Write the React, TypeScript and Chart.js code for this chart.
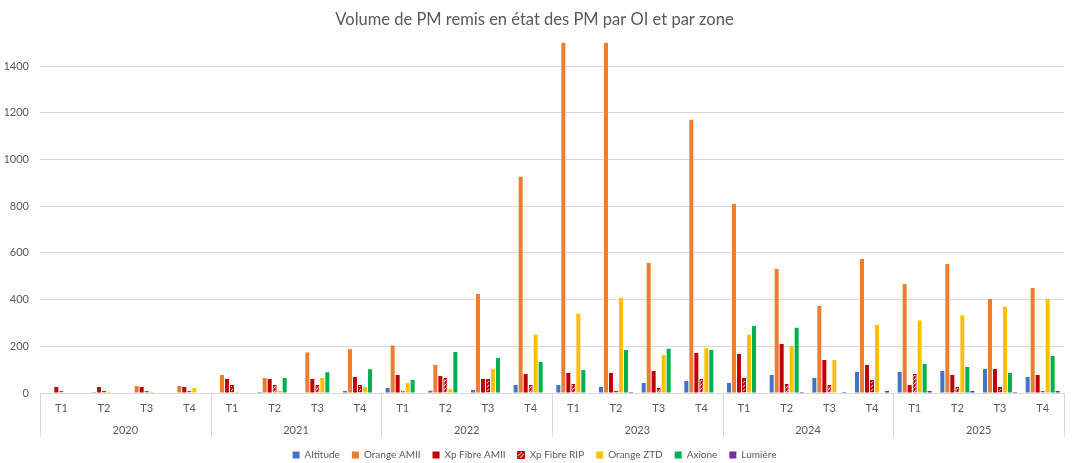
import React, { useEffect, useRef } from "react";
import { Chart, registerables } from "chart.js";

Chart.register(...registerables);

const categories = [
  "T1", "T2", "T3", "T4",
  "T1", "T2", "T3", "T4",
  "T1", "T2", "T3", "T4",
  "T1", "T2", "T3", "T4",
  "T1", "T2", "T3", "T4",
  "T1", "T2", "T3", "T4",
];
const years = ["2020", "2021", "2022", "2023", "2024", "2025"];
const yTicks = [0, 200, 400, 600, 800, 1000, 1200, 1400];
const yMax = 1500;

const altitude = [0, 0, 0, 0, 0, 4, 0, 9, 21, 10, 13, 34, 34, 26, 43, 51, 43, 77, 64, 90, 90, 94, 103, 69];
const orangeAmii = [0, 4, 30, 30, 77, 64, 174, 187, 203, 120, 424, 926, 1650, 1600, 557, 1170, 810, 531, 373, 574, 467, 553, 403, 450];
const xpFibreAmii = [26, 26, 26, 26, 60, 60, 60, 68, 77, 73, 60, 81, 86, 86, 94, 171, 167, 210, 141, 120, 34, 77, 103, 77];
const xpFibreRip = [9, 9, 9, 9, 34, 34, 34, 34, 10, 64, 60, 34, 39, 9, 21, 60, 64, 39, 34, 56, 81, 26, 26, 9];
const orangeZtd = [0, 4, 4, 21, 4, 9, 64, 26, 43, 17, 103, 249, 339, 407, 163, 193, 249, 201, 141, 291, 311, 333, 369, 403];
const axione = [0, 0, 0, 0, 0, 64, 89, 102, 56, 176, 150, 133, 99, 184, 189, 184, 287, 279, 0, 0, 124, 111, 86, 159];
const lumiere = [0, 0, 0, 0, 0, 0, 0, 0, 0, 0, 0, 0, 0, 4, 0, 0, 0, 4, 4, 9, 9, 9, 4, 9];

const FONT = "Lato, 'Liberation Sans', sans-serif";
const TEXT = "#595959";
const GRID = "#d9d9d9";

function makeHatch(): CanvasPattern | string {
  const c = document.createElement("canvas");
  c.width = 4;
  c.height = 4;
  const ctx = c.getContext("2d");
  if (!ctx) return "#c00000";
  ctx.fillStyle = "#ffffff";
  ctx.fillRect(0, 0, 4, 4);
  ctx.strokeStyle = "#c00000";
  ctx.lineWidth = 2;
  ctx.beginPath();
  ctx.moveTo(-1, 5);
  ctx.lineTo(5, -1);
  ctx.moveTo(-3, 3);
  ctx.lineTo(3, -3);
  ctx.moveTo(1, 7);
  ctx.lineTo(7, 1);
  ctx.stroke();
  return ctx.createPattern(c, "repeat") || "#c00000";
}

const yearSeparators = {
  id: "yearSeparators",
  afterDraw(chart: any) {
    const xs = chart.scales.x;
    const { ctx, chartArea } = chart;
    const per = categories.length / years.length;
    const bottom = chartArea.bottom + 44;
    ctx.save();
    ctx.strokeStyle = GRID;
    ctx.lineWidth = 1;
    for (let i = 0; i <= years.length; i++) {
      let px: number;
      if (i === 0) px = chartArea.left;
      else if (i === years.length) px = chartArea.right;
      else px = (xs.getPixelForValue(i * per - 1) + xs.getPixelForValue(i * per)) / 2;
      const xx = Math.round(px) + 0.5;
      ctx.beginPath();
      ctx.moveTo(xx, chartArea.bottom);
      ctx.lineTo(xx, bottom);
      ctx.stroke();
    }
    ctx.restore();
  },
};

export default function App() {
  const ref = useRef<HTMLCanvasElement | null>(null);

  useEffect(() => {
    if (!ref.current) return;
    const hatch = makeHatch();
    const common = { categoryPercentage: 0.82, barPercentage: 0.8, borderWidth: 0 };
    const chart = new Chart(ref.current, {
      type: "bar",
      data: {
        labels: categories,
        datasets: [
          { label: "Altitude", data: altitude, backgroundColor: "#4472c4", ...common },
          { label: "Orange AMII", data: orangeAmii, backgroundColor: "#ed7d31", ...common },
          { label: "Xp Fibre AMII", data: xpFibreAmii, backgroundColor: "#c00000", ...common },
          {
            label: "Xp Fibre RIP",
            data: xpFibreRip,
            backgroundColor: hatch as any,
            ...common,
            borderWidth: 1,
            borderColor: "#c00000",
          },
          { label: "Orange ZTD", data: orangeZtd, backgroundColor: "#ffc000", ...common },
          { label: "Axione", data: axione, backgroundColor: "#00b050", ...common },
          { label: "Lumière", data: lumiere, backgroundColor: "#7030a0", ...common },
        ],
      },
      options: {
        animation: false,
        responsive: true,
        maintainAspectRatio: false,
        layout: { padding: { left: 5, right: 11, top: 0, bottom: 0 } },
        plugins: {
          title: {
            display: true,
            text: "Volume de PM remis en état des PM par OI et par zone",
            color: TEXT,
            font: { family: FONT, size: 16.5, weight: "normal" },
            padding: { top: 10, bottom: 13 },
          },
          legend: {
            position: "bottom",
            labels: {
              color: TEXT,
              font: { family: FONT, size: 10 },
              boxWidth: 7,
              boxHeight: 7,
              padding: 12,
            },
          },
          tooltip: { enabled: false },
        },
        scales: {
          x: {
            type: "category",
            position: "bottom",
            grid: { display: false, drawTicks: false },
            border: { display: true, color: GRID },
            ticks: {
              color: TEXT,
              font: { family: FONT, size: 11 },
              padding: 9,
              autoSkip: false,
              maxRotation: 0,
            },
            afterFit: (s: any) => {
              s.height = 24;
            },
          },
          x2: {
            type: "category",
            position: "bottom",
            labels: years,
            offset: true,
            grid: { display: false, drawTicks: false },
            border: { display: false },
            ticks: {
              color: TEXT,
              font: { family: FONT, size: 11 },
              padding: 7,
              autoSkip: false,
              maxRotation: 0,
            },
            afterFit: (s: any) => {
              s.height = 21;
            },
          },
          y: {
            min: 0,
            max: yMax,
            grid: { color: GRID, lineWidth: 1, drawTicks: false },
            border: { display: false },
            ticks: {
              stepSize: 200,
              color: TEXT,
              font: { family: FONT, size: 11 },
              padding: 11,
              callback: (v: any) => String(v),
            },
            afterBuildTicks: (s: any) => {
              s.ticks = yTicks.map((v) => ({ value: v }));
            },
            afterFit: (s: any) => {
              s.width = 35;
            },
          },
        },
      },
      plugins: [yearSeparators],
    });
    return () => chart.destroy();
  }, []);

  return (
    <div style={{ position: "fixed", left: 0, top: 0, width: 1075, height: 463, overflow: "hidden", background: "#fff" }}>
      <div style={{ position: "relative", width: 1075, height: 470 }}>
        <canvas ref={ref} />
      </div>
    </div>
  );
}
